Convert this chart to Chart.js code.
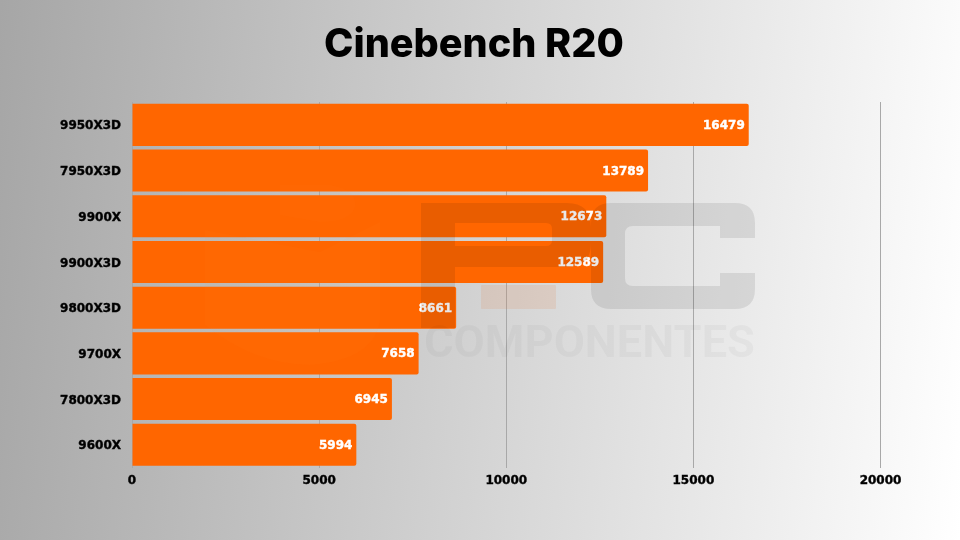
<!DOCTYPE html>
<html><head><meta charset="utf-8">
<style>
html,body{margin:0;padding:0;width:960px;height:540px;overflow:hidden;background:linear-gradient(95deg,#a6a6a6 0%,#ffffff 100%);}
#wrap{position:absolute;left:0;top:0;width:948px;height:540px;}
#mark{position:absolute;left:0;top:0;width:960px;height:540px;pointer-events:none;}
</style>
<script src="https://cdn.jsdelivr.net/npm/chart.js@4/dist/chart.umd.min.js"></script>
</head><body>
<div id="wrap"><canvas id="c" width="948" height="540"></canvas></div>
<svg id="mark" viewBox="0 0 960 540" xmlns="http://www.w3.org/2000/svg">
  <path d="M205 230L320 252L380 222V320Q375 360 310 365Q255 365 205 325Z" fill="rgb(255,165,50)" fill-opacity="0.04"/>
  <path d="M280 185H330Q358 190 355 207Q350 222 320 222L280 215Z" fill="rgb(255,165,50)" fill-opacity="0.03"/>
  <rect x="481" y="285" width="75" height="24" rx="1" fill="rgb(225,120,60)" fill-opacity="0.14"/>
  <path fill-rule="evenodd" fill="#000" fill-opacity="0.085" d="M421 203H567Q591 203 591 227V243Q591 267 567 267H455V328H421ZM455 223V246H546Q552 246 552 240V229Q552 223 546 223Z"/>
  <path fill-rule="evenodd" fill="#000" fill-opacity="0.085" d="M611 203H735Q755 203 755 223V238H720V226H633Q625 226 625 234V278Q625 286 633 286H720V273H755V289Q755 309 735 309H611Q591 309 591 289V223Q591 203 611 203Z"/>
  <text x="424" y="357" font-family="Roboto" font-weight="700" font-size="45" textLength="331" lengthAdjust="spacingAndGlyphs" fill="#000" fill-opacity="0.03">COMPONENTES</text>
</svg>
<script>
const titleText = "Cinebench R20";
const categories = ["9950X3D","7950X3D","9900X","9900X3D","9800X3D","9700X","7800X3D","9600X"];
const scores = [16479,13789,12673,12589,8661,7658,6945,5994];
const xTicks = [0,5000,10000,15000,20000];

const barLabels = {
  id:"barLabels",
  afterDatasetsDraw(chart){
    const ctx = chart.ctx;
    const meta = chart.getDatasetMeta(0);
    ctx.save();
    ctx.font = "bold 12px 'DejaVu Sans'";
    ctx.fillStyle = "#ffffff";
    ctx.strokeStyle = "#ffffff";
    ctx.lineWidth = 0.4;
    ctx.textAlign = "right";
    ctx.textBaseline = "middle";
    meta.data.forEach((bar,i)=>{
      ctx.strokeText(String(scores[i]), bar.x-4, bar.y+1);
      ctx.fillText(String(scores[i]), bar.x-4, bar.y+1);
    });
    ctx.restore();
  }
};

new Chart(document.getElementById("c"),{
  type:"bar",
  data:{labels:categories,datasets:[{data:scores,backgroundColor:"#ff6600",borderWidth:0,
    borderRadius:{topLeft:0,bottomLeft:0,topRight:2,bottomRight:2},borderSkipped:false,
    barPercentage:0.92,categoryPercentage:1,yAxisID:"y"}]},
  plugins:[barLabels],
  options:{
    indexAxis:"y",responsive:false,animation:false,devicePixelRatio:1,
    layout:{padding:0},
    plugins:{
      legend:{display:false},tooltip:{enabled:false},
      title:{display:true,text:titleText,color:"#000000",
        font:{family:"Inter",weight:"800",size:39.6,lineHeight:1.2},
        padding:{top:21,bottom:33.5}}
    },
    scales:{
      x:{type:"linear",min:0,max:20000,afterBuildTicks(s){s.ticks=xTicks.map(v=>({value:v}));},
        afterFit(s){s.height=72.4;},
        grid:{color:"#a8a8a8",lineWidth:1,drawTicks:false},border:{display:false},
        ticks:{color:"#000",padding:6,maxRotation:0,autoSkip:false,textStrokeColor:"#000",textStrokeWidth:0.4,
          font:{family:"DejaVu Sans",weight:"bold",size:12},callback:v=>String(v)}},
      y:{afterFit(s){s.width=132;},
        grid:{display:false,drawTicks:false},border:{display:false},
        ticks:{color:"#000",padding:11,autoSkip:false,labelOffset:1.5,textStrokeColor:"#000",textStrokeWidth:0.4,
          font:{family:"DejaVu Sans",weight:"bold",size:12}}},
      spacer:{type:"category",position:"right",labels:[""],afterFit(s){s.width=67.5;},
        grid:{display:false,drawTicks:false},border:{display:false},ticks:{display:false}}
    }
  }
});
</script>
</body></html>
